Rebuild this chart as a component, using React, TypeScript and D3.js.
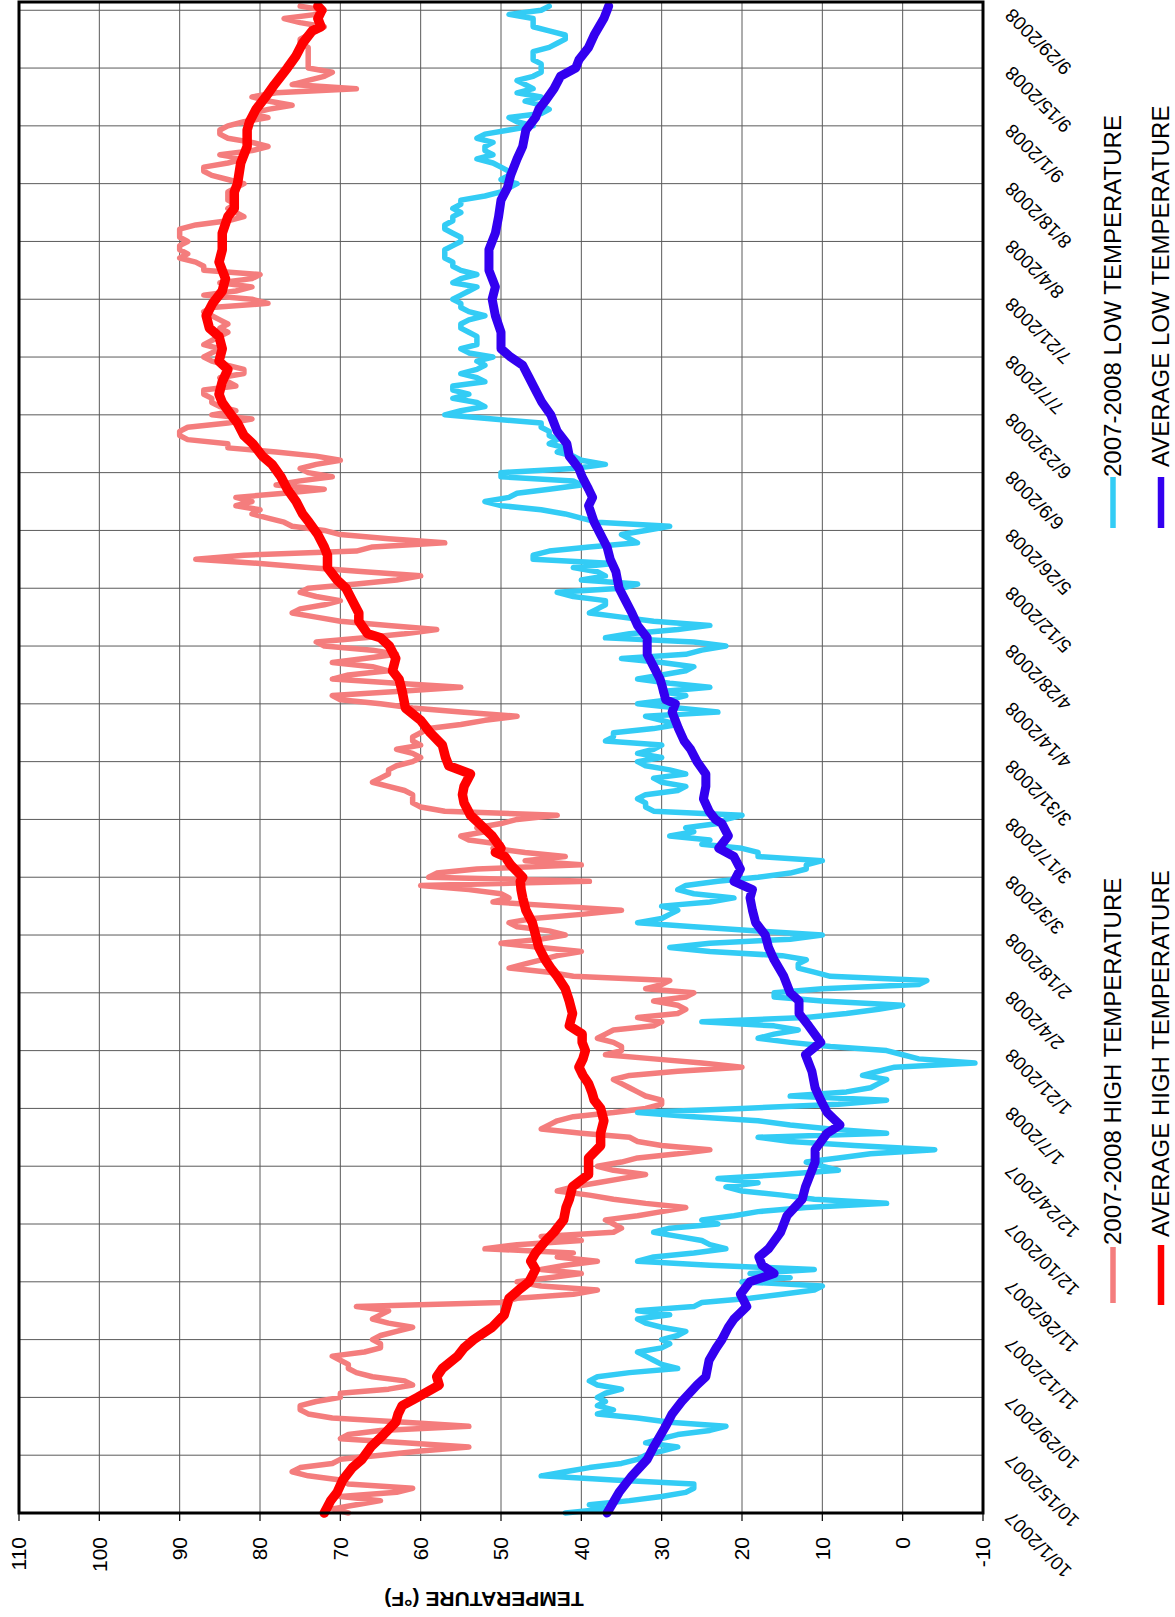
import React from 'react';
import * as d3 from 'd3';

const START = new Date(Date.UTC(2007, 9, 1));
const END = new Date(Date.UTC(2008, 9, 1));

const dateLabels = [
  '10/1/2007', '10/15/2007', '10/29/2007', '11/12/2007', '11/26/2007', '12/10/2007', '12/24/2007',
  '1/7/2008', '1/21/2008', '2/4/2008', '2/18/2008', '3/3/2008', '3/17/2008', '3/31/2008',
  '4/14/2008', '4/28/2008', '5/12/2008', '5/26/2008', '6/9/2008', '6/23/2008', '7/7/2008',
  '7/21/2008', '8/4/2008', '8/18/2008', '9/1/2008', '9/15/2008', '9/29/2008',
];
const tempTicks = [110, 100, 90, 80, 70, 60, 50, 40, 30, 20, 10, 0, -10];

// daily values, 10/1/2007 .. 9/30/2008
const high0708 = [
  69, 71, 68, 65, 70, 63, 61, 69, 70, 74,
  76, 75, 71, 70, 65, 60, 54, 62, 70, 69,
  65, 54, 62, 71, 74, 75, 75, 73, 70, 70,
  64, 61, 62, 66, 68, 69, 69, 70, 71, 67,
  65, 65, 66, 65, 63, 61, 64, 66, 65, 64,
  68, 50, 48, 41, 38, 45, 48, 44, 40, 45,
  42, 38, 43, 41, 52, 48, 40, 45, 36, 35,
  36, 37, 33, 30, 27, 32, 36, 39, 43, 41,
  38, 35, 32, 36, 38, 35, 33, 28, 24, 30,
  33, 34, 40, 45, 44, 43, 41, 36, 32, 30,
  30, 32, 33, 34, 35, 36, 34, 28, 20, 25,
  31, 37, 35, 35, 36, 38, 37, 36, 31, 30,
  33, 28, 27, 28, 31, 27, 26, 32, 30, 29,
  41, 44, 49, 47, 45, 43, 40, 45, 50, 45,
  42, 44, 48, 49, 46, 40, 35, 43, 51, 49,
  50, 54, 60, 39, 59, 58, 53, 40, 47, 42,
  47, 51, 50, 54, 55, 52, 53, 50, 48, 43,
  57, 60, 61, 61, 61, 62, 64, 66, 65, 64,
  64, 63, 61, 60, 61, 63, 60, 61, 61, 60,
  59, 55, 52, 48, 55, 61, 65, 70, 71, 63,
  55, 63, 71, 69, 64, 66, 71, 67, 63, 66,
  72, 73, 67, 62, 58, 64, 70, 73, 76, 75,
  72, 70, 73, 75, 74, 68, 63, 60, 67, 74,
  80, 88, 82, 68, 66, 57, 64, 70, 72, 76,
  77, 79, 81, 80, 83, 81, 83, 77, 72, 78,
  75, 71, 74, 75, 73, 70, 73, 78, 84, 84,
  89, 90, 90, 89, 84, 81, 86, 83, 85, 86,
  86, 87, 87, 83, 84, 85, 82, 82, 84, 86,
  87, 86, 85, 87, 86, 85, 84, 85, 84, 85,
  86, 87, 86, 79, 81, 87, 83, 81, 85, 81,
  80, 87, 87, 88, 90, 89, 90, 90, 89, 90,
  90, 90, 88, 84, 82, 83, 84, 83, 84, 84,
  84, 83, 82, 84, 86, 87, 87, 84, 82, 85,
  81, 79, 81, 84, 85, 85, 84, 82, 79, 81,
  79, 76, 79, 81, 78, 68, 76, 74, 72, 71,
  74, 74, 74, 74, 74, 74, 75, 75, 74, 73,
  72, 75, 77, 73, 72, 75,
];

const low0708 = [
  42, 37, 39, 34, 30, 27, 26, 26, 36, 45,
  42, 39, 35, 33, 32, 30, 28, 32, 30, 28,
  24, 22, 29, 33, 38, 36, 38, 37, 38, 37,
  35, 38, 39, 38, 34, 28, 30, 31, 32, 33,
  30, 29, 30, 28, 27, 30, 32, 33, 29, 33,
  26, 25, 19, 15, 11, 10, 20, 14, 19, 11,
  24, 33, 31, 26, 22, 24, 25, 28, 31, 29,
  23, 25, 21, 18, 12, 2, 11, 15, 20, 22,
  18, 23, 15, 8, 10, 12, 8, 4, -4, 6,
  14, 18, 2, 9, 14, 18, 26, 33, 20, 8,
  2, 14, 7, 4, 3, 2, 5, 3, 1, -9,
  -2, 0, 2, 9, 14, 18, 16, 13, 16, 25,
  12, 7, 3, 0, 10, 16, 16, 10, -2, -3,
  9, 11, 13, 13, 12, 15, 24, 29, 24, 14,
  10, 18, 26, 33, 30, 29, 28, 30, 24, 21,
  26, 28, 27, 23, 18, 14, 12, 12, 10, 18,
  18, 20, 25, 24, 29, 26, 27, 23, 22, 20,
  31, 32, 32, 33, 32, 28, 27, 30, 31, 27,
  29, 32, 33, 30, 33, 31, 30, 37, 36, 36,
  31, 28, 30, 32, 23, 28, 33, 29, 27, 30,
  24, 29, 33, 30, 27, 26, 30, 35, 27, 25,
  22, 26, 37, 34, 28, 24, 31, 35, 39, 38,
  37, 37, 41, 43, 35, 33, 40, 37, 38, 41,
  36, 46, 46, 44, 39, 33, 34, 35, 32, 29,
  38, 40, 42, 45, 50, 52, 49, 48, 44, 40,
  41, 50, 50, 41, 37, 40, 41, 43, 42, 44,
  43, 44, 44, 45, 45, 51, 57, 55, 52, 53,
  56, 54, 56, 56, 52, 53, 55, 53, 52, 53,
  51, 54, 55, 53, 53, 53, 54, 55, 55, 54,
  52, 54, 55, 55, 56, 55, 54, 53, 56, 55,
  53, 55, 56, 56, 57, 57, 57, 56, 55, 55,
  56, 57, 57, 56, 56, 55, 56, 55, 55, 52,
  50, 49, 48, 50, 49, 49, 50, 51, 53, 51,
  52, 52, 51, 53, 52, 49, 46, 48, 49, 45,
  44, 45, 47, 45, 48, 46, 47, 48, 46, 45,
  45, 45, 46, 46, 46, 44, 43, 42, 42, 44,
  46, 46, 46, 49, 45, 44,
];

// [day index, temperature]
const avgHigh: [number, number][] = [
  [0, 72], [3, 71.2], [5, 70.4], [8, 69.7], [11, 68.5], [13, 67.3], [16, 66.2], [19, 64.6], [22, 63.1],
  [24, 62.8], [26, 62.3], [28, 60.4], [31, 57.7], [33, 58.0], [35, 57.3], [38, 55.4], [40, 54.6], [42, 53.4],
  [45, 51.1], [48, 49.6], [50, 49.3], [52, 49.0], [54, 47.8], [56, 46.5], [59, 45.7], [61, 46.3], [63, 45.7],
  [66, 44.4], [68, 43.4], [71, 42.2], [74, 41.9], [76, 41.5], [79, 41.1], [82, 39.1], [86, 39.1], [89, 37.6],
  [92, 37.6], [95, 37.2], [98, 37.6], [100, 38.4], [102, 38.7], [104, 39.1], [106, 39.8], [108, 40.3],
  [110, 39.8], [112, 39.5], [114, 39.9], [116, 39.9], [118, 41.5], [121, 41.1], [124, 41.5], [127, 42.0],
  [130, 43.0], [132, 43.8], [134, 44.5], [137, 45.3], [140, 45.7], [143, 46.1], [146, 46.9], [149, 47.3],
  [151, 47.5], [153, 47.6], [154, 47.3], [157, 48.8], [159, 49.5], [160, 50.7], [161, 50.0], [164, 51.1],
  [167, 52.7], [169, 53.8], [172, 54.6], [174, 54.8], [176, 54.6], [179, 53.8], [181, 56.5], [183, 56.9],
  [186, 57.3], [189, 58.8], [192, 60.0], [195, 61.9], [199, 62.3], [202, 62.7], [204, 63.5], [207, 63.1],
  [210, 63.9], [212, 65.0], [213, 66.6], [216, 67.7], [218, 67.7], [221, 68.5], [224, 69.3], [226, 70.4],
  [229, 71.6], [232, 71.6], [234, 72.0], [237, 72.8], [240, 73.9], [242, 74.7], [245, 75.5], [248, 76.6],
  [251, 77.4], [254, 78.5], [256, 79.7], [259, 80.9], [261, 82.0], [264, 82.8], [266, 83.6], [269, 84.7],
  [271, 85.1], [274, 84.7], [277, 84.0], [279, 85.1], [282, 84.7], [285, 85.1], [287, 86.3], [290, 86.7],
  [293, 85.9], [296, 84.7], [299, 84.3], [303, 85.1], [306, 84.7], [310, 84.7], [314, 84.0], [316, 83.2],
  [320, 83.2], [322, 82.8], [327, 82.4], [331, 81.6], [335, 81.6], [337, 81.3], [340, 80.5], [343, 79.3],
  [346, 78.2], [350, 76.6], [353, 75.5], [356, 74.7], [359, 73.5], [360, 72.4], [362, 72.8], [364, 72.3],
  [365, 72.8],
];

const avgLow: [number, number][] = [
  [0, 36.8], [3, 35.9], [5, 35.3], [9, 33.7], [13, 31.8], [16, 31.0], [21, 29.5], [24, 28.7], [27, 27.5],
  [31, 25.6], [33, 24.5], [37, 24.1], [40, 23.2], [42, 22.5], [45, 21.7], [47, 21.0], [50, 19.4], [53, 20.2],
  [56, 19.0], [58, 16.0], [60, 17.5], [62, 17.9], [64, 16.7], [68, 15.2], [72, 14.4], [76, 12.5], [79, 12.1],
  [81, 11.7], [85, 10.9], [88, 10.9], [92, 9.4], [94, 7.8], [97, 9.4], [100, 10.2], [103, 10.9], [107, 11.3],
  [111, 12.1], [114, 10.2], [118, 11.7], [121, 12.9], [124, 12.9], [126, 14.0], [130, 14.8], [134, 16.0],
  [137, 16.7], [140, 17.1], [143, 18.3], [146, 18.7], [149, 19.0], [151, 18.7], [153, 21.0], [156, 20.2],
  [159, 21.0], [161, 22.9], [162, 22.5], [164, 21.7], [167, 22.5], [168, 23.3], [170, 24.1], [173, 24.8],
  [176, 24.5], [179, 24.5], [182, 25.6], [185, 26.4], [187, 27.2], [190, 27.9], [194, 28.7], [196, 28.3],
  [197, 29.5], [200, 29.9], [202, 30.2], [205, 31.0], [208, 31.8], [212, 31.8], [215, 33.0], [218, 33.7],
  [221, 34.5], [224, 35.3], [228, 35.7], [231, 36.4], [234, 36.8], [237, 37.6], [240, 38.4], [244, 39.1],
  [246, 38.6], [248, 39.1], [251, 39.9], [253, 40.3], [256, 41.5], [259, 41.8], [262, 43.0], [266, 43.8],
  [269, 44.9], [272, 45.7], [275, 46.5], [278, 47.3], [280, 48.8], [282, 50.0], [286, 50.0], [290, 50.7],
  [294, 51.1], [297, 50.7], [301, 51.5], [304, 51.5], [306, 51.5], [310, 50.7], [314, 50.3], [318, 50.0],
  [321, 49.2], [324, 48.8], [328, 48.0], [331, 47.3], [335, 46.9], [338, 45.7], [340, 45.3], [342, 44.5],
  [345, 43.4], [348, 42.6], [350, 40.7], [352, 40.3], [355, 39.1], [358, 38.4], [362, 37.2], [364, 36.8],
  [365, 36.6],
];

const FONT = "'Liberation Sans', Arial, Helvetica, sans-serif";

export default function App() {
  const W = 1175;
  const H = 1617;
  const left = 19, right = 983, top = 2, bottom = 1513;

  const x = d3.scaleLinear().domain([-10, 110]).range([right, left]);
  const y = d3.scaleUtc().domain([START, END]).range([bottom, top]);
  const dayDate = (i: number) => d3.utcDay.offset(START, i);

  const dailyLine = d3.line<number>()
    .x((v) => x(v))
    .y((_, i) => y(dayDate(i)));
  const pairLine = d3.line<[number, number]>()
    .x((d) => x(d[1]))
    .y((d) => y(dayDate(d[0])));

  const tickDates = dateLabels.map((_, i) => d3.utcDay.offset(START, i * 14));

  const legend = [
    { label: '2007-2008 HIGH TEMPERATURE', color: '#F47D7D', w: 5.5, cx: 1113, y0: 1303, y1: 1247, ty: 1245 },
    { label: 'AVERAGE HIGH TEMPERATURE', color: '#FF0000', w: 6.5, cx: 1161, y0: 1305, y1: 1245, ty: 1237 },
    { label: '2007-2008 LOW TEMPERATURE', color: '#33CCF5', w: 5.5, cx: 1113, y0: 528, y1: 477, ty: 477 },
    { label: 'AVERAGE LOW TEMPERATURE', color: '#3300F0', w: 6.5, cx: 1161, y0: 528, y1: 477, ty: 467 },
  ];

  return (
    <svg width={W} height={H} style={{ position: 'absolute', left: 0, top: 0, background: '#fff' }}
      fontFamily={FONT}>
      <rect x={0} y={0} width={W} height={H} fill="#fff" />
      {/* gridlines */}
      <g stroke="#5a5a5a" strokeWidth={1}>
        {tempTicks.filter((t) => t > -10 && t < 110).map((t) => (
          <line key={'gx' + t} x1={x(t)} x2={x(t)} y1={top} y2={bottom} />
        ))}
        {tickDates.slice(1).map((d, i) => (
          <line key={'gy' + i} x1={left} x2={right} y1={y(d)} y2={y(d)} />
        ))}
      </g>
      {/* series */}
      <g fill="none" strokeLinejoin="round" strokeLinecap="round">
        <path d={dailyLine(high0708) || ''} stroke="#F47D7D" strokeWidth={5.5} />
        <path d={pairLine(avgHigh) || ''} stroke="#FF0000" strokeWidth={9.5} />
        <path d={dailyLine(low0708) || ''} stroke="#33CCF5" strokeWidth={5.5} />
        <path d={pairLine(avgLow) || ''} stroke="#3300F0" strokeWidth={9} />
      </g>
      {/* frame */}
      <rect x={left} y={top} width={right - left} height={bottom - top} fill="none" stroke="#000" strokeWidth={3} />
      {/* temperature ticks and labels */}
      <g>
        {tempTicks.map((t) => (
          <g key={'t' + t}>
            <line x1={x(t)} x2={x(t)} y1={bottom} y2={bottom + 8} stroke="#000" strokeWidth={1.2} />
            <text transform={`translate(${x(t)},1537) rotate(-90)`} textAnchor="end" dy="0.35em"
              fontSize={21} fill="#000">{t}</text>
          </g>
        ))}
      </g>
      <text transform="translate(484,1599) rotate(180)" textAnchor="middle" dy="0.35em" fontSize={21}
        fontWeight="bold" fill="#000">TEMPERATURE (°F)</text>
      {/* date labels */}
      <g>
        {dateLabels.map((lab, i) => (
          <text key={lab} transform={`translate(1013,${y(tickDates[i]) - 3}) rotate(-135)`} textAnchor="end"
            fontSize={19} fill="#000">{lab}</text>
        ))}
      </g>
      {/* legend */}
      <g>
        {legend.map((l) => (
          <g key={l.label}>
            <line x1={l.cx} x2={l.cx} y1={l.y0} y2={l.y1} stroke={l.color} strokeWidth={l.w} />
            <text transform={`translate(${l.cx},${l.ty}) rotate(-90)`} textAnchor="start" dy="0.35em"
              fontSize={24} fill="#000">{l.label}</text>
          </g>
        ))}
      </g>
    </svg>
  );
}
